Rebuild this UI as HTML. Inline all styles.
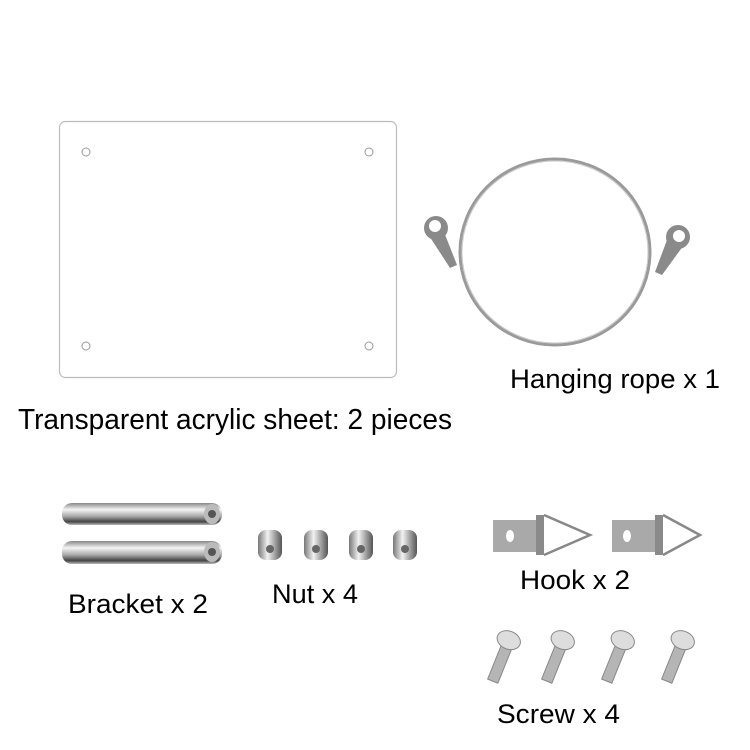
<!DOCTYPE html>
<html><head><style>body{margin:0;background:#fff}svg{display:block}</style></head><body>
<svg width="750" height="750" viewBox="0 0 750 750" xmlns="http://www.w3.org/2000/svg" font-family="Liberation Sans, Arial, sans-serif">
<defs>
<linearGradient id="m" x1="0" y1="0" x2="0" y2="1"><stop offset="0" stop-color="#888"/><stop offset="0.3" stop-color="#f4f4f4"/><stop offset="0.6" stop-color="#aaa"/><stop offset="0.85" stop-color="#444"/><stop offset="1" stop-color="#bbb"/></linearGradient>
<linearGradient id="n" x1="0" y1="0" x2="1" y2="0"><stop offset="0" stop-color="#777"/><stop offset="0.4" stop-color="#f2f2f2"/><stop offset="0.8" stop-color="#888"/><stop offset="1" stop-color="#555"/></linearGradient>
</defs>
<rect x="59.5" y="121.5" width="337" height="256" rx="6" fill="#fff" stroke="#bcbcbc" stroke-width="1.2"/>
<g fill="none" stroke="#999"><circle cx="86" cy="152" r="4"/><circle cx="369" cy="152" r="4"/><circle cx="86" cy="346" r="4"/><circle cx="369" cy="346" r="4"/></g>
<ellipse cx="555" cy="252" rx="95" ry="93" fill="none" stroke="#9a9a9a" stroke-width="3"/>
<ellipse cx="555" cy="252" rx="93" ry="91" fill="none" stroke="#ccc" stroke-width="1"/>
<g fill="#8a8a8a">
<circle cx="436" cy="228" r="12"/><path d="M428 234 L444 232 L457 265 L450 268 z"/>
<circle cx="678" cy="237" r="12"/><path d="M670 232 L686 242 L662 275 L655 272 z"/>
</g>
<circle cx="435" cy="226" r="6" fill="#fff"/><circle cx="679" cy="236" r="6" fill="#fff"/>
<text x="510" y="388" font-size="27" fill="#000" textLength="210" lengthAdjust="spacingAndGlyphs">Hanging rope x 1</text>
<text x="18" y="429" font-size="29" fill="#000" textLength="434" lengthAdjust="spacingAndGlyphs">Transparent acrylic sheet: 2 pieces</text>
<rect x="62" y="503" width="160" height="22" rx="10" fill="url(#m)"/>
<rect x="62" y="541" width="160" height="23" rx="10" fill="url(#m)"/>
<ellipse cx="212" cy="514" rx="8" ry="10" fill="#bbb"/><circle cx="212" cy="514" r="4" fill="#555"/>
<ellipse cx="212" cy="552" rx="8" ry="10" fill="#bbb"/><circle cx="212" cy="552" r="4" fill="#555"/>
<g fill="url(#n)"><rect x="258" y="530" width="24" height="30" rx="8"/><rect x="304" y="530" width="24" height="30" rx="8"/><rect x="349" y="530" width="24" height="30" rx="8"/><rect x="393" y="530" width="24" height="30" rx="8"/></g>
<g fill="#666"><circle cx="270" cy="549" r="4"/><circle cx="316" cy="549" r="4"/><circle cx="361" cy="549" r="4"/><circle cx="405" cy="549" r="4"/></g>
<text x="68" y="613" font-size="27" fill="#000" textLength="140" lengthAdjust="spacingAndGlyphs">Bracket x 2</text>
<text x="272" y="603" font-size="27" fill="#000" textLength="86" lengthAdjust="spacingAndGlyphs">Nut x 4</text>
<g>
<rect x="493" y="520" width="50" height="32" fill="#a9a9a9"/><rect x="536" y="515" width="8" height="40" fill="#8a8a8a"/>
<path d="M544 515 L590 535 L544 555" fill="none" stroke="#888" stroke-width="2.5"/><ellipse cx="510" cy="536" rx="4" ry="6" fill="#fff"/>
<rect x="612" y="520" width="50" height="32" fill="#a9a9a9"/><rect x="655" y="515" width="8" height="40" fill="#8a8a8a"/>
<path d="M663 515 L700 535 L663 555" fill="none" stroke="#888" stroke-width="2.5"/><ellipse cx="627" cy="536" rx="4" ry="6" fill="#fff"/>
</g>
<text x="520" y="589" font-size="27" fill="#000" textLength="110" lengthAdjust="spacingAndGlyphs">Hook x 2</text>
<g stroke="#888">
<g transform="translate(508,642) rotate(22)"><rect x="-5" y="0" width="11" height="42" fill="#b5b5b5"/><ellipse cx="0" cy="-2" rx="12" ry="9" fill="#ddd"/></g>
<g transform="translate(562,642) rotate(22)"><rect x="-5" y="0" width="11" height="42" fill="#b5b5b5"/><ellipse cx="0" cy="-2" rx="12" ry="9" fill="#ddd"/></g>
<g transform="translate(622,642) rotate(22)"><rect x="-5" y="0" width="11" height="42" fill="#b5b5b5"/><ellipse cx="0" cy="-2" rx="12" ry="9" fill="#ddd"/></g>
<g transform="translate(682,642) rotate(22)"><rect x="-5" y="0" width="11" height="42" fill="#b5b5b5"/><ellipse cx="0" cy="-2" rx="12" ry="9" fill="#ddd"/></g>
</g>
<text x="497" y="723" font-size="27" fill="#000" textLength="123" lengthAdjust="spacingAndGlyphs">Screw x 4</text>
</svg>
</body></html>
